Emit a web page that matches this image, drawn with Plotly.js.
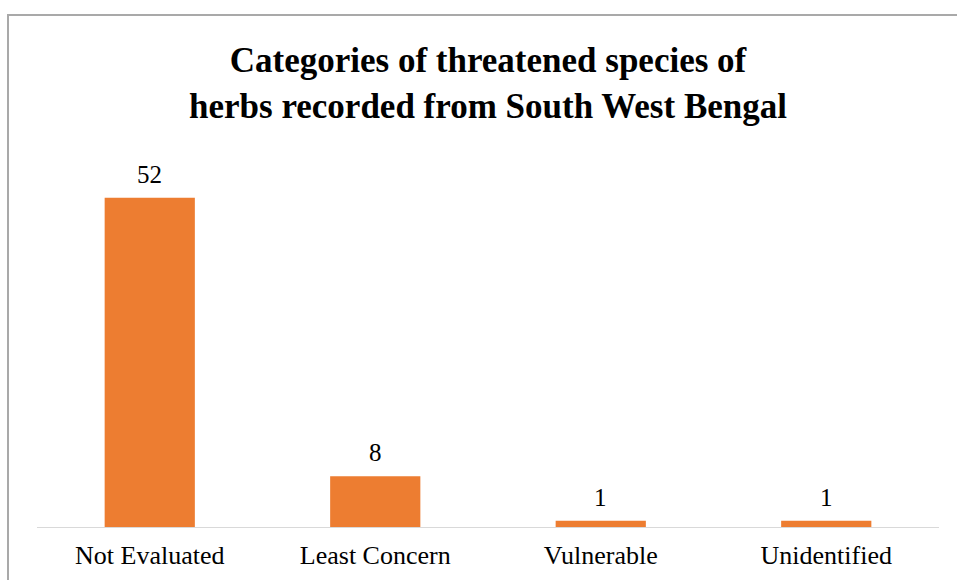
<!DOCTYPE html>
<html>
<head>
<meta charset="utf-8">
<script src="https://cdn.plot.ly/plotly-3.0.1.min.js"></script>
<style>
  html, body { margin: 0; padding: 0; background: #ffffff; }
  #wrap { position: relative; width: 957px; height: 580px; overflow: hidden; }
  #frame { position: absolute; left: 7px; top: 14px; width: 1100px; height: 1000px; border: 2px solid #a9a9a9; box-sizing: border-box; }
  #chart { position: absolute; left: 0; top: 0; width: 957px; height: 580px; }
</style>
</head>
<body>
<div id="wrap">
  <div id="frame"></div>
  <div id="chart"></div>
</div>
<script>
const categories = ["Not Evaluated", "Least Concern", "Vulnerable", "Unidentified"];
const counts = [52, 8, 1, 1];
const titleLines = ["Categories of threatened species of", "herbs recorded from South West Bengal"];

const serif = "'Liberation Serif', 'Times New Roman', Times, serif";

const trace = {
  type: "bar",
  x: categories,
  y: counts,
  marker: { color: "#ED7D31" },
  hoverinfo: "x+y"
};

const labels = categories.map((c, i) => ({
  x: c,
  y: counts[i],
  xref: "x",
  yref: "y",
  text: String(counts[i]),
  showarrow: false,
  xanchor: "center",
  yanchor: "bottom",
  yshift: 8,
  font: { family: serif, size: 25, color: "#000000" }
}));

const layout = {
  width: 957,
  height: 580,
  margin: { l: 37, r: 18, t: 147, b: 53 },
  paper_bgcolor: "rgba(0,0,0,0)",
  plot_bgcolor: "rgba(0,0,0,0)",
  bargap: 0.6,
  showlegend: false,
  annotations: labels,
  title: {
    text: "<b>" + titleLines.join("<br>") + "</b>",
    font: { family: serif, size: 35, color: "#000000" },
    xref: "paper",
    x: 0.5,
    xanchor: "center",
    yref: "container",
    y: 1 - 72 / 580,
    yanchor: "middle"
  },
  xaxis: {
    showline: true,
    linecolor: "#d9d9d9",
    linewidth: 1,
    ticks: "",
    ticklabelstandoff: 5,
    tickfont: { family: serif, size: 26, color: "#000000" },
    showgrid: false,
    zeroline: false
  },
  yaxis: {
    range: [0, 60],
    visible: false,
    showgrid: false,
    zeroline: false
  }
};

Plotly.newPlot("chart", [trace], layout, { displayModeBar: false, staticPlot: true });
</script>
</body>
</html>
